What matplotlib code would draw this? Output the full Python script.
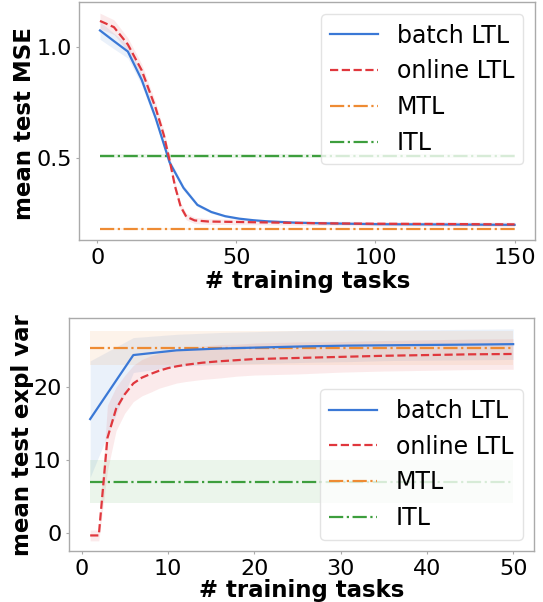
import matplotlib
matplotlib.use("Agg")
import matplotlib.pyplot as plt
import numpy as np

# ---------------- data: top panel (MSE) ----------------
top_batch_x = [1, 6, 11, 16, 21, 26, 31, 36, 41, 46, 51, 56, 61, 66, 71, 81, 91, 101, 121, 150]
top_batch_y = [1.075, 1.027, 0.980, 0.852, 0.680, 0.480, 0.365, 0.288, 0.256, 0.237,
               0.226, 0.219, 0.214, 0.211, 0.208, 0.205, 0.203, 0.201, 0.200, 0.198]
top_batch_s = [0.040, 0.035, 0.030, 0.025, 0.020, 0.015, 0.012, 0.008, 0.006, 0.005,
               0.005, 0.004, 0.004, 0.004, 0.004, 0.004, 0.004, 0.004, 0.004, 0.004]

top_online_x = [1, 6, 11, 16, 21, 24, 26, 28, 30, 32, 35, 40, 50, 60, 80, 100, 120, 150]
top_online_y = [1.118, 1.090, 1.012, 0.895, 0.725, 0.600, 0.490, 0.370, 0.280, 0.235,
                0.218, 0.213, 0.211, 0.209, 0.205, 0.203, 0.202, 0.200]
top_online_s = [0.035, 0.033, 0.030, 0.028, 0.025, 0.022, 0.020, 0.018, 0.016, 0.015,
                0.014, 0.013, 0.012, 0.011, 0.010, 0.010, 0.010, 0.010]

top_x_range = [1, 150]
top_mtl_mean, top_mtl_std = 0.180, 0.003
top_itl_mean, top_itl_std = 0.508, 0.010

# ---------------- data: bottom panel (explained variance) ----------------
bot_batch_x = [1, 6, 11, 16, 21, 26, 31, 36, 41, 46, 50]
bot_batch_y = [15.6, 24.4, 25.05, 25.3, 25.45, 25.6, 25.7, 25.75, 25.8, 25.85, 25.9]
bot_batch_s = [8.0, 2.4, 2.2, 2.2, 2.2, 2.2, 2.2, 2.1, 2.1, 2.1, 2.1]

bot_online_x = [1, 2, 3, 4, 5, 6, 7, 8, 9, 10, 11, 12, 14, 16, 18, 20, 25, 30, 35, 40, 45, 50]
bot_online_y = [-0.4, -0.4, 13.0, 17.0, 19.0, 20.5, 21.3, 21.8, 22.25, 22.6, 22.85, 23.05,
                23.35, 23.55, 23.7, 23.85, 24.0, 24.15, 24.3, 24.4, 24.5, 24.55]
bot_online_s = [0.75, 0.75, 4.5, 3.0, 2.6, 2.5, 2.5, 2.5, 2.4, 2.4, 2.3, 2.3,
                2.3, 2.3, 2.2, 2.2, 2.2, 2.1, 2.1, 2.1, 2.1, 2.1]

bot_x_range = [1, 50]
bot_mtl_mean, bot_mtl_std = 25.35, 2.3
bot_itl_mean, bot_itl_std = 7.0, 3.0

labels = ["batch LTL", "online LTL", "MTL", "ITL"]
c_blue, c_red, c_orange, c_green = "#3a78d6", "#e0373d", "#ee8b33", "#3d9e3d"

FS = 16.5
TFS = 16
LFS = 17

fig = plt.figure(figsize=(5.43, 6.02), dpi=100)
ax1 = fig.add_axes([0.1460, 0.6008, 0.8398, 0.3953])
ax2 = fig.add_axes([0.1271, 0.0839, 0.8569, 0.3874])


def band(ax, x, y, s, color, ls, label):
    x = np.asarray(x, float)
    y = np.asarray(y, float)
    s = np.asarray(s, float)
    ax.plot(x, y, color=color, ls=ls, lw=1.6, label=label, zorder=3)
    ax.fill_between(x, y - s, y + s, color=color, alpha=0.1, lw=0, zorder=1)


def hline(ax, xr, m, s, color, label):
    xr = np.asarray(xr, float)
    ax.plot(xr, [m, m], color=color, ls="-.", lw=1.6, label=label, zorder=2)
    ax.fill_between(xr, [m - s] * 2, [m + s] * 2, color=color, alpha=0.1, lw=0, zorder=1)


band(ax1, top_batch_x, top_batch_y, top_batch_s, c_blue, "-", labels[0])
band(ax1, top_online_x, top_online_y, top_online_s, c_red, "--", labels[1])
hline(ax1, top_x_range, top_mtl_mean, top_mtl_std, c_orange, labels[2])
hline(ax1, top_x_range, top_itl_mean, top_itl_std, c_green, labels[3])

band(ax2, bot_batch_x, bot_batch_y, bot_batch_s, c_blue, "-", labels[0])
band(ax2, bot_online_x, bot_online_y, bot_online_s, c_red, "--", labels[1])
hline(ax2, bot_x_range, bot_mtl_mean, bot_mtl_std, c_orange, labels[2])
hline(ax2, bot_x_range, bot_itl_mean, bot_itl_std, c_green, labels[3])

ax1.set_xticks([0, 50, 100, 150])
ax1.set_yticks([0.5, 1.0])
ax2.set_xticks([0, 10, 20, 30, 40, 50])
ax2.set_yticks([0, 10, 20])

settings = [
    (ax1, "mean test MSE", "upper right", -0.172, (-0.121, 0.489)),
    (ax2, "mean test expl var", "lower right", -0.168, (-0.099, 0.5)),
]
for ax, yl, loc, xly, ylc in settings:
    ax.set_xlabel("# training tasks", fontsize=FS, fontweight="bold", va="center")
    ax.set_ylabel(yl, fontsize=FS, fontweight="bold", va="center")
    ax.xaxis.set_label_coords(0.5, xly)
    ax.yaxis.set_label_coords(ylc[0], ylc[1])
    ax.tick_params(labelsize=TFS, length=2.5, color="#aaaaaa", pad=3)
    for sp in ax.spines.values():
        sp.set_color("#aaaaaa")
        sp.set_linewidth(1.0)
    leg = ax.legend(loc=loc, fontsize=LFS, framealpha=0.8)
    leg.get_frame().set_edgecolor("#dddddd")

fig.savefig("out.png", dpi=100)
